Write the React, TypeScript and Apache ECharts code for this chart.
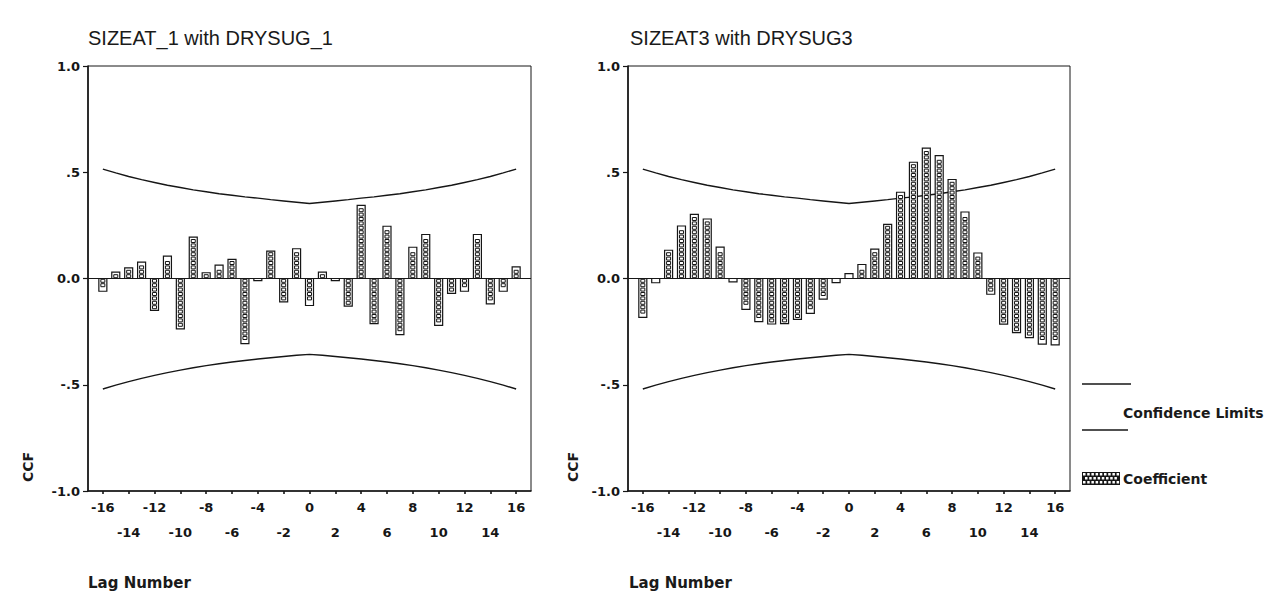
import React, { useEffect, useRef } from "react";
import * as echarts from "echarts";

const lags = [-16, -15, -14, -13, -12, -11, -10, -9, -8, -7, -6, -5, -4, -3, -2, -1, 0, 1, 2, 3, 4, 5, 6, 7, 8, 9, 10, 11, 12, 13, 14, 15, 16];

const ccfLeft = [-0.06, 0.03, 0.05, 0.077, -0.15, 0.105, -0.237, 0.195, 0.027, 0.063, 0.09, -0.306, -0.01, 0.129, -0.11, 0.14, -0.127, 0.03, -0.01, -0.13, 0.344, -0.212, 0.246, -0.264, 0.147, 0.207, -0.221, -0.07, -0.06, 0.207, -0.119, -0.06, 0.055];

const ccfRight = [-0.183, -0.02, 0.133, 0.247, 0.302, 0.28, 0.148, -0.016, -0.145, -0.203, -0.214, -0.212, -0.192, -0.164, -0.097, -0.019, 0.023, 0.066, 0.138, 0.255, 0.406, 0.547, 0.614, 0.578, 0.466, 0.313, 0.12, -0.074, -0.215, -0.255, -0.278, -0.309, -0.312];

const confUpper = [0.515, 0.497, 0.48, 0.465, 0.452, 0.439, 0.428, 0.417, 0.408, 0.399, 0.392, 0.384, 0.378, 0.371, 0.365, 0.359, 0.353, 0.359, 0.365, 0.371, 0.378, 0.384, 0.392, 0.399, 0.408, 0.417, 0.428, 0.439, 0.452, 0.465, 0.48, 0.497, 0.515];
const confLower = [-0.52, -0.502, -0.485, -0.47, -0.456, -0.443, -0.431, -0.42, -0.41, -0.401, -0.393, -0.386, -0.379, -0.373, -0.367, -0.361, -0.357, -0.361, -0.367, -0.373, -0.379, -0.386, -0.393, -0.401, -0.41, -0.42, -0.431, -0.443, -0.456, -0.47, -0.485, -0.502, -0.52];

const tickLags = [-16, -14, -12, -10, -8, -6, -4, -2, 0, 2, 4, 6, 8, 10, 12, 14, 16];
const yTickLabels: Record<string, string> = { "1": "1.0", "0.5": ".5", "0": "0.0", "-0.5": "-.5", "-1": "-1.0" };

const titles = ["SIZEAT_1 with DRYSUG_1", "SIZEAT3 with DRYSUG3"];

const FONT = "'Liberation Sans', Arial, sans-serif";
const SMALL = "'DejaVu Sans', sans-serif";
const INK = "#161616";

function renderBar(params: any, api: any) {
  const lag = api.value(0);
  const v = api.value(1);
  const p0 = api.coord([lag, 0]);
  const p1 = api.coord([lag, v]);
  const w = 8;
  const x = p0[0] - w / 2;
  const top = Math.min(p0[1], p1[1]);
  const h = Math.abs(p1[1] - p0[1]);
  const children: any[] = [
    { type: "rect", shape: { x, y: top, width: w, height: h }, style: { fill: "#fff", stroke: INK, lineWidth: 1.2 } },
  ];
  const pitch = 4.4;
  const n = Math.floor((h - 1) / pitch);
  for (let i = 0; i < n; i++) {
    const cy = v >= 0 ? p0[1] - (i + 1) * pitch + 0.6 : p0[1] + i * pitch + 0.8;
    children.push({
      type: "rect",
      shape: { x: x + 2, y: cy, width: 4, height: 3 },
      style: { fill: "#fff", stroke: INK, lineWidth: 1 },
    });
  }
  return { type: "group", children };
}

function legendPattern(x0: number, y0: number) {
  const kids: any[] = [{ type: "rect", shape: { x: x0, y: y0, width: 38, height: 13 }, style: { fill: INK } }];
  for (let r = 0; r < 3; r++) {
    for (let c = 0; c < 9; c++) {
      const off = r % 2 === 0 ? 0 : 2;
      const xx = x0 + 1 + c * 4.2 + off;
      if (xx + 2.5 > x0 + 38) continue;
      kids.push({ type: "rect", shape: { x: xx, y: y0 + 1 + r * 4, width: 2.5, height: 2.5 }, style: { fill: "#fff" } });
    }
  }
  return kids;
}

export default function App() {
  const ref = useRef<HTMLDivElement>(null);
  useEffect(() => {
    if (!ref.current) return;
    const chart = echarts.init(ref.current, undefined, { renderer: "svg" });
    const grids = [
      { left: 88, top: 66, width: 443, height: 425 },
      { left: 628, top: 66, width: 442, height: 425 },
    ];
    const datasets = [ccfLeft, ccfRight];
    const xAxis = grids.map((_, i) => ({
      type: "value",
      gridIndex: i,
      min: -17.15,
      max: 17.15,
      splitLine: { show: false },
      axisLine: { show: true, onZero: false, lineStyle: { color: INK, width: 1.6 } },
      axisTick: { show: true, customValues: tickLags, length: 3, lineStyle: { color: INK, width: 1.6 } },
      axisLabel: {
        customValues: tickLags,
        color: INK,
        fontFamily: SMALL,
        fontSize: 13,
        fontWeight: "bold",
        margin: 4,
        lineHeight: 25,
        formatter: (v: number) => (v % 4 === 0 ? String(v) : "\n" + v),
      },
    }));
    const yAxis = grids.map((_, i) => ({
      type: "value",
      gridIndex: i,
      min: -1,
      max: 1,
      interval: 0.5,
      splitLine: { show: false },
      axisLine: { show: true, onZero: false, lineStyle: { color: INK, width: 1.6 } },
      axisTick: { show: true, length: 5, lineStyle: { color: INK, width: 1.2 } },
      axisLabel: {
        color: INK,
        fontFamily: SMALL,
        fontSize: 13,
        fontWeight: "bold",
        margin: 8,
        formatter: (v: number) => yTickLabels[String(v)] ?? String(v),
      },
    }));
    const series: any[] = [];
    datasets.forEach((d, i) => {
      series.push({
        type: "custom",
        xAxisIndex: i,
        yAxisIndex: i,
        data: lags.map((l, k) => [l, d[k]]),
        renderItem: renderBar,
        z: 3,
        markLine: {
          silent: true,
          symbol: "none",
          label: { show: false },
          lineStyle: { color: INK, width: 1.2, type: "solid" },
          data: [{ yAxis: 0 }],
        },
      });
      series.push({
        type: "line",
        xAxisIndex: i,
        yAxisIndex: i,
        data: lags.map((l, k) => [l, confUpper[k]]),
        symbol: "none",
        z: 2,
        lineStyle: { color: INK, width: 1.4 },
      });
      series.push({
        type: "line",
        xAxisIndex: i,
        yAxisIndex: i,
        data: lags.map((l, k) => [l, confLower[k]]),
        symbol: "none",
        z: 2,
        lineStyle: { color: INK, width: 1.4 },
      });
    });
    const graphic: any[] = [];
    titles.forEach((t, i) => {
      graphic.push({
        type: "text",
        left: i === 0 ? 88 : 630,
        top: 28,
        style: { text: t, fill: "#1a1a1a", font: `20px ${FONT}` },
      });
      graphic.push({
        type: "text",
        x: i === 0 ? 88 : 629,
        y: 583,
        style: { text: "Lag Number", fill: "#1a1a1a", font: `bold 15px ${SMALL}`, verticalAlign: "middle" },
      });
      graphic.push({
        type: "text",
        x: i === 0 ? 28 : 573,
        y: 467,
        rotation: Math.PI / 2,
        style: { text: "CCF", fill: "#1a1a1a", font: `bold 14px ${SMALL}`, align: "center", verticalAlign: "middle" },
      });
    });
    graphic.push({ type: "line", shape: { x1: 1082, y1: 384, x2: 1131, y2: 384 }, style: { stroke: INK, lineWidth: 1.4 } });
    graphic.push({ type: "line", shape: { x1: 1082, y1: 430, x2: 1128, y2: 430 }, style: { stroke: INK, lineWidth: 1.4 } });
    graphic.push({
      type: "text",
      x: 1123,
      y: 413,
      style: { text: "Confidence Limits", fill: "#1a1a1a", font: `bold 14px ${SMALL}`, verticalAlign: "middle" },
    });
    graphic.push({ type: "group", children: legendPattern(1082, 472) });
    graphic.push({
      type: "text",
      x: 1123,
      y: 479,
      style: { text: "Coefficient", fill: "#1a1a1a", font: `bold 14px ${SMALL}`, verticalAlign: "middle" },
    });

    chart.setOption({
      animation: false,
      backgroundColor: "#ffffff",
      grid: grids.map((g) => ({ ...g, show: true, borderColor: INK, borderWidth: 1, backgroundColor: "transparent" })),
      xAxis,
      yAxis,
      series,
      graphic,
    });
    return () => chart.dispose();
  }, []);
  return <div ref={ref} style={{ position: "fixed", left: 0, top: 0, width: 1270, height: 593 }} />;
}
